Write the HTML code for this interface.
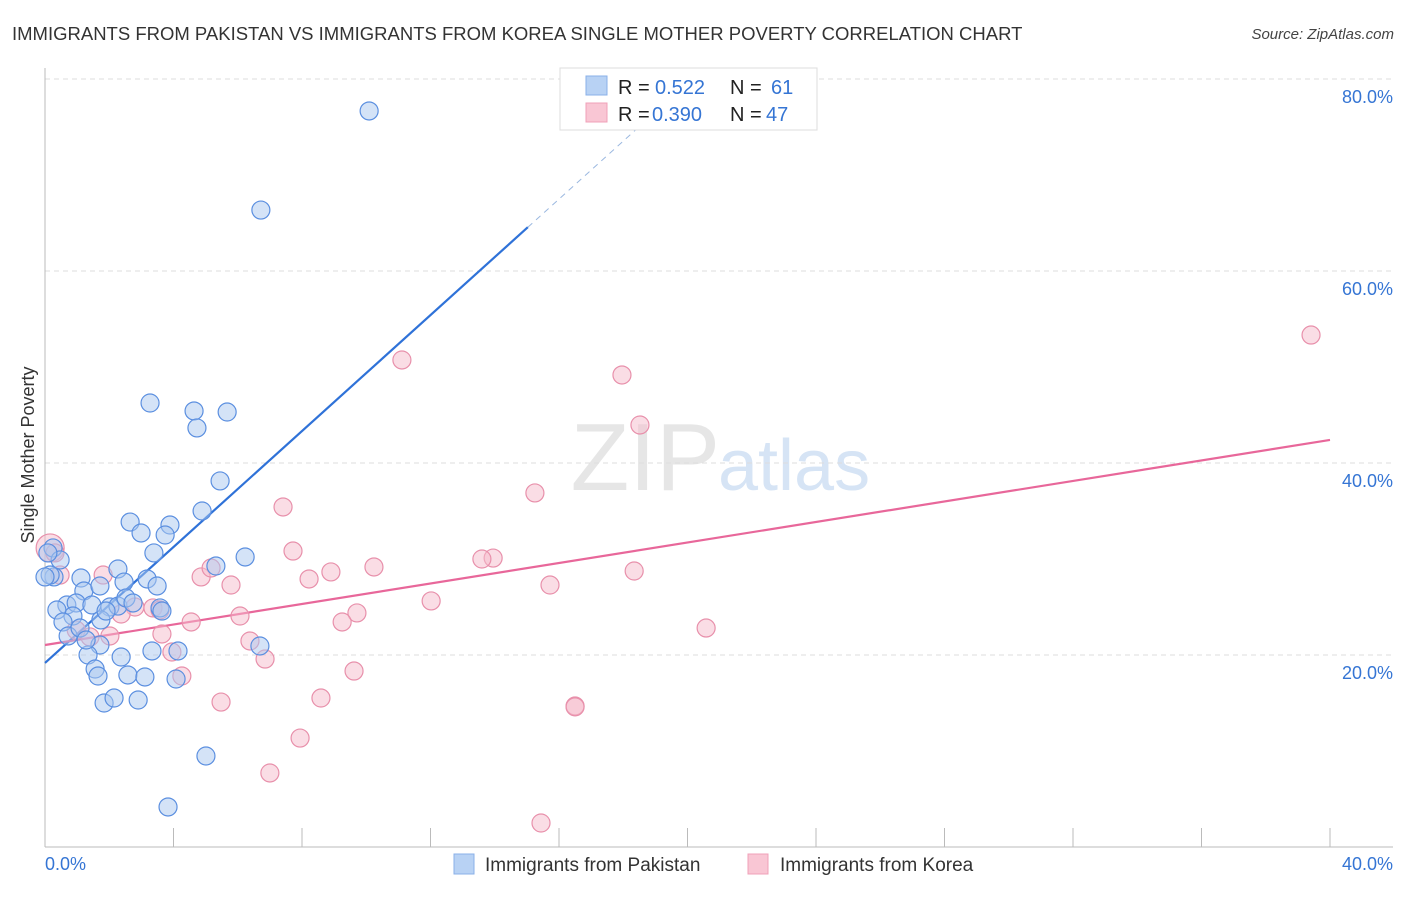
<!DOCTYPE html>
<html><head><meta charset="utf-8"><style>
body{margin:0;background:#fff;font-family:"Liberation Sans",sans-serif;}
svg text{font-family:"Liberation Sans",sans-serif;}
</style></head><body>
<svg id="chart" width="1406" height="892" xmlns="http://www.w3.org/2000/svg">
<text x="12" y="40" font-size="18.5" fill="#333">IMMIGRANTS FROM PAKISTAN VS IMMIGRANTS FROM KOREA SINGLE MOTHER POVERTY CORRELATION CHART</text>
<text x="1394" y="39" font-size="15" fill="#444" font-style="italic" text-anchor="end">Source: ZipAtlas.com</text>
<text x="720" y="490" font-size="96" fill="#e6e6e6" text-anchor="end" font-family="Liberation Serif">ZIP</text>
<text x="718" y="490" font-size="72" fill="#d6e4f5">atlas</text>
<text transform="translate(34,455) rotate(-90)" font-size="18" fill="#333" text-anchor="middle">Single Mother Poverty</text>
<g id="grid"></g>
<g id="axes"></g>
<g id="trends"></g>
<g id="points"></g>
<g>
<rect x="560" y="68" width="257" height="62" fill="#fff" stroke="#ddd"/>
<rect x="586" y="76" width="21" height="19" fill="#b8d2f4" stroke="#8ab0e8"/>
<rect x="586" y="103" width="21" height="19" fill="#f9c6d4" stroke="#f0a0b8"/>
<text x="618" y="94" font-size="20" fill="#222">R = </text><text x="655" y="94" font-size="20" fill="#3575d4">0.522</text>
<text x="730" y="94" font-size="20" fill="#222">N = </text><text x="771" y="94" font-size="20" fill="#3575d4">61</text>
<text x="618" y="121" font-size="20" fill="#222">R = </text><text x="652" y="121" font-size="20" fill="#3575d4">0.390</text>
<text x="730" y="121" font-size="20" fill="#222">N = </text><text x="766" y="121" font-size="20" fill="#3575d4">47</text>
</g>
<g>
<rect x="454" y="854" width="20" height="20" fill="#b8d2f4" stroke="#8ab0e8"/>
<text x="485" y="871" font-size="19" fill="#333">Immigrants from Pakistan</text>
<rect x="748" y="854" width="20" height="20" fill="#f9c6d4" stroke="#f0a0b8"/>
<text x="780" y="871" font-size="19" fill="#333">Immigrants from Korea</text>
</g>
<text x="45" y="870" font-size="18" fill="#3575d4">0.0%</text>
<text x="1393" y="870" font-size="18" fill="#3575d4" text-anchor="end">40.0%</text>
</svg>
<script>
const yTicks=[20,40,60,80];
const yTickLabels=["20.0%","40.0%","60.0%","80.0%"];
const pakX=[10.09,6.72,3.27,4.64,5.67,4.73,5.45,4.89,2.65,2.99,3.89,3.74,3.39,6.23,5.32,2.27,0.25,0.47,1.12,2.46,3.18,3.49,1.21,0.28,0.16,0.68,0.97,1.46,0.87,0.37,2.02,2.27,2.52,3.58,3.64,0.56,1.74,0.72,1.71,1.34,3.33,4.14,6.69,2.37,1.56,1.65,2.58,3.11,4.08,1.84,2.15,2.90,5.01,3.83,0.0,1.9,2.74,0.09,1.71,1.09,1.28];
const pakY=[76.67,66.35,46.25,45.42,45.31,43.65,38.13,35.0,33.85,32.71,33.54,32.5,30.63,30.21,29.27,28.96,31.15,29.9,28.02,27.6,27.92,27.19,26.67,28.13,28.33,25.21,25.42,25.21,24.06,24.69,25.0,25.1,25.94,24.9,24.58,23.44,23.65,21.98,21.04,20.0,20.42,20.42,20.94,19.79,18.54,17.81,17.92,17.71,17.5,15.0,15.52,15.31,9.48,4.17,28.13,24.58,25.42,30.63,27.19,22.81,21.56];
const korX=[39.41,11.11,17.96,18.52,15.25,7.41,7.72,13.95,13.6,10.24,8.9,8.22,4.86,5.17,5.79,1.81,15.72,18.34,12.02,9.71,9.25,6.07,2.8,3.36,3.58,2.37,4.55,1.4,2.02,3.64,0.97,6.38,20.58,3.95,6.85,9.62,4.26,8.59,5.48,16.5,7.94,7.0,15.44,0.16,0.47,0.31,16.5];
const korY=[53.33,50.73,49.17,43.96,36.88,35.42,30.83,30.1,30.0,29.17,28.65,27.92,28.13,29.06,27.29,28.33,27.29,28.75,25.63,24.38,23.44,24.06,25.0,24.9,24.69,24.27,23.44,21.88,21.98,22.19,22.6,21.46,22.81,20.31,19.58,18.33,17.81,15.52,15.1,14.69,11.35,7.71,2.5,31.15,28.33,30.63,14.6];
const pakTrend=[19.17,3.02]; // intercept, slope
const korTrend=[21.04,0.534];
const NS="http://www.w3.org/2000/svg";
const X=v=>45+v/40*1285, Y=v=>847-v*9.6;
function mk(tag,attrs,parent){const e=document.createElementNS(NS,tag);for(const k in attrs)e.setAttribute(k,attrs[k]);parent.appendChild(e);return e;}
const grid=document.getElementById('grid'),axes=document.getElementById('axes'),tr=document.getElementById('trends'),pts=document.getElementById('points');
yTicks.forEach((t,i)=>{
 const l=mk('line',{x1:45,x2:1393,y1:Y(t),y2:Y(t),stroke:'#ddd','stroke-dasharray':'5,4'},grid);
 
 
 const tx=mk('text',{x:1393,y:Y(t)+24,'font-size':18,fill:'#3575d4','text-anchor':'end'},grid);
 tx.textContent=yTickLabels[i];
 
 
});
const xa=mk('line',{x1:45,x2:1393,y1:847,y2:847,stroke:'#bbb'},axes);


const ya=mk('line',{x1:45,x2:45,y1:68,y2:847,stroke:'#bbb'},axes);


for(let i=0;i<=10;i++){const t=mk('line',{x1:X(i*4),x2:X(i*4),y1:828,y2:847,stroke:'#bbb'},axes);
 
 }
function pt(x,y,r,fill,stroke,name){const c=mk('circle',{cx:X(x),cy:Y(y),r:r,fill:fill,'fill-opacity':0.5,stroke:stroke,'stroke-width':1.2},pts);
 
 }
korX.forEach((x,i)=>pt(x,korY[i],i==43?14:9,'#f6bccb','#e890ab','point-korea'));
pakX.forEach((x,i)=>pt(x,pakY[i],9,'#a9c8f0','#5b8fe0','point-pakistan'));
const pl=mk('line',{x1:X(0),y1:Y(pakTrend[0]),x2:X(15.03),y2:Y(pakTrend[0]+pakTrend[1]*15.03),stroke:'#2f72d8','stroke-width':2.2},tr);


const pd=mk('line',{x1:X(15.03),y1:Y(pakTrend[0]+pakTrend[1]*15.03),x2:X(18.5),y2:Y(pakTrend[0]+pakTrend[1]*18.5),stroke:'#9bb8e0','stroke-width':1,'stroke-dasharray':'6,5'},tr);


const kl=mk('line',{x1:X(0),y1:Y(korTrend[0]),x2:X(40),y2:Y(korTrend[0]+korTrend[1]*40),stroke:'#e8679a','stroke-width':2.2},tr);


</script>
</body></html>
